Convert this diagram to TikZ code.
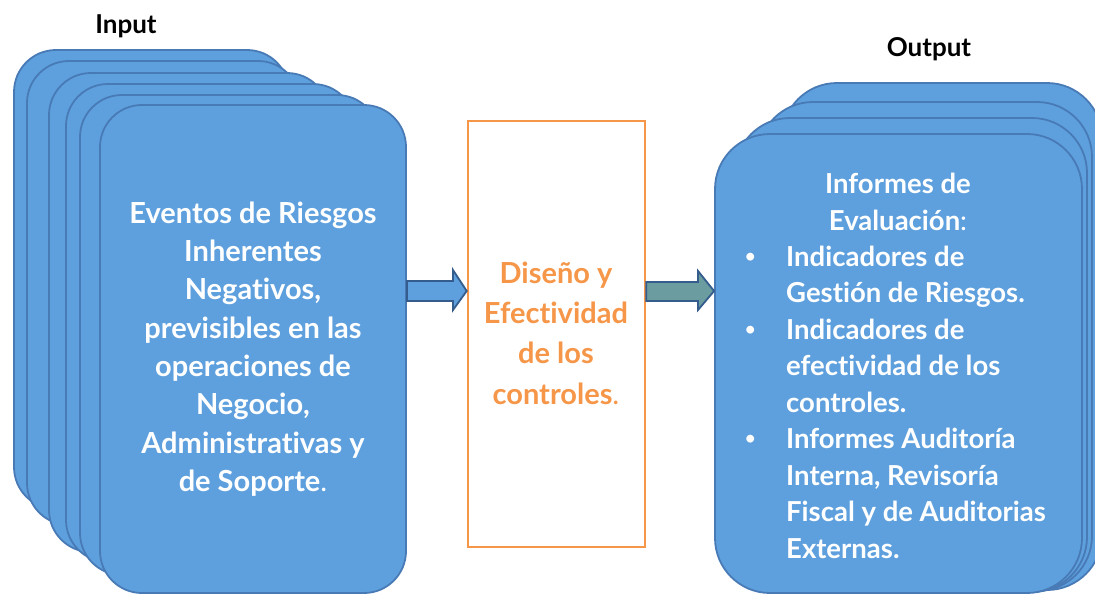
\documentclass[tikz,border=0pt]{standalone}
\usepackage{fontspec}
\setmainfont{Lato}[Ligatures=NoCommon]
\usepackage{array}
\definecolor{boxblue}{RGB}{94,160,222}
\definecolor{boxline}{RGB}{72,122,182}
\definecolor{arrline}{RGB}{52,92,140}
\definecolor{teal}{RGB}{106,156,160}
\definecolor{orng}{RGB}{246,150,72}
\newcommand{\smallbul}{\raisebox{4pt}{\fontsize{18}{18}\selectfont\textbullet}}
\tikzset{
  card/.style={draw=boxline, fill=boxblue, line width=1.8pt, rounded corners=42pt},
  rcard/.style={draw=boxline, fill=boxblue, line width=1.8pt, rounded corners=55pt},
  blockarrow/.style={draw=arrline, line width=1.8pt, line join=miter},
  wtext/.style={text=white, font=\bfseries\fontsize{29}{38.3}\selectfont, align=center},
  otext/.style={text=orng, font=\bfseries\fontsize{29}{40.3}\selectfont, align=center},
  title/.style={text=black, font=\bfseries\fontsize{26}{30}\selectfont},
}
\begin{document}
\begin{tikzpicture}[x=1pt,y=-1pt]
\useasboundingbox (0,0) rectangle (1095,595);
% left stack
\path[card] (14,50) rectangle (289,509);
\path[card] (27,61) rectangle (300,525);
\path[card] (49,73) rectangle (329,552);
\path[card] (66,84) rectangle (355,562);
\path[card] (80,95) rectangle (379,575);
\node[card, minimum width=306pt, minimum height=488pt, inner sep=0pt] (inp) at (253,349) {};
\node[wtext] (inptext) at (inp.center) {Eventos de Riesgos\\Inherentes\\Negativos,\\previsibles en las\\operaciones de\\Negocio,\\Administrativas y\\de Soporte\textmd{.}};
\node[title] (inlabel) at (126,26) {Input};
% middle box
\node[draw=orng, line width=2.6pt, fill=white, minimum width=177pt, minimum height=426pt, inner sep=0pt] (mid) at (556.5,334) {};
\node[otext] (midtext) at (556,333) {Diseño y\\Efectividad\\de los\\controles\textmd{.}};
% right stack
\path[rcard] (782,83) rectangle (1102,590);
\path[rcard] (758,102) rectangle (1092,591);
\path[rcard] (735,118) rectangle (1087,592);
\node[rcard, minimum width=367pt, minimum height=459pt, inner sep=0pt] (out) at (898.5,363.5) {};
\node[title] (outlabel) at (929,49) {Output};
\node[wtext, font=\bfseries\fontsize{27.5}{36.7}\selectfont] (outhead) at (898,202) {Informes de\\Evaluación\textmd{:}};
\node[text=white, font=\bfseries\fontsize{27.5}{36.5}\selectfont, anchor=base west, inner sep=0pt] (outlist) at (745,266)
{\begin{tabular}[t]{@{}p{41pt}@{}l@{}}
\smallbul & Indicadores de\\
 & Gestión de Riesgos.\\
\smallbul & Indicadores de\\
 & efectividad de los\\
 & controles.\\
\smallbul & Informes Auditoría\\
 & Interna, Revisoría\\
 & Fiscal y de Auditorias\\
 & Externas.
\end{tabular}};
% block arrows
\draw[blockarrow, fill=boxblue] (inp.east |- 0,281) -- (453,281) -- (453,270) -- (mid.west |- 0,291)
  -- (453,310) -- (453,301) -- (inp.east |- 0,301) -- cycle;
\draw[blockarrow, fill=teal] (mid.east |- 0,282) -- (698,282) -- (698,271) -- (out.west |- 0,291)
  -- (698,310) -- (698,301) -- (mid.east |- 0,301) -- cycle;
\end{tikzpicture}
\end{document}
